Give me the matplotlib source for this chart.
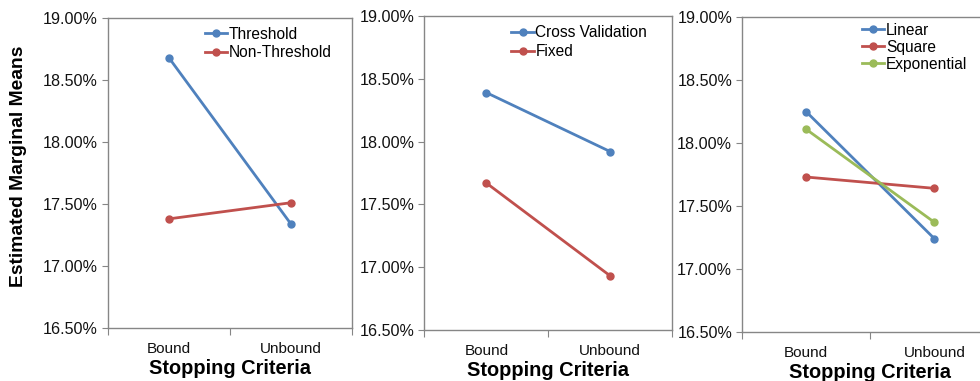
import matplotlib.pyplot as plt
from matplotlib.ticker import FuncFormatter

plt.rcParams["font.family"] = "Liberation Sans"

categories = ["Bound", "Unbound"]

# estimated marginal means (%) per stopping criterion
threshold = [18.68, 17.34]
non_threshold = [17.38, 17.51]

cross_validation = [18.39, 17.92]
fixed = [17.67, 16.93]

linear = [18.25, 17.24]
square = [17.73, 17.64]
exponential = [18.11, 17.37]

y_ticks = [16.5, 17.0, 17.5, 18.0, 18.5, 19.0]

blue = "#4F81BD"
red = "#C0504D"
green = "#9BBB59"
axis_grey = "#868686"

fig = plt.figure(figsize=(9.8, 3.81), dpi=100)

panels = [
    ([0.110, 0.139, 0.249, 0.814], [(threshold, "Threshold", blue), (non_threshold, "Non-Threshold", red)], (0.398, 0.972), 0.25),
    ([0.433, 0.134, 0.253, 0.824], [(cross_validation, "Cross Validation", blue), (fixed, "Fixed", red)], (0.351, 0.970), 0.25),
    ([0.757, 0.129, 0.262, 0.826], [(linear, "Linear", blue), (square, "Square", red), (exponential, "Exponential", green)], (0.467, 0.982), 0.13),
]

for i, (rect, series, anchor, spacing) in enumerate(panels):
    ax = fig.add_axes(rect)
    x = [0.5, 1.5]
    for values, label, color in series:
        ax.plot(x, values, color=color, linewidth=2, marker="o", markersize=5, label=label)
    ax.set_xlim(0, 2)
    ax.set_ylim(16.5, 19.0)
    ax.set_yticks(y_ticks)
    ax.yaxis.set_major_formatter(FuncFormatter(lambda v, p: "%.2f%%" % v))
    # category ticks sit between the groups, labels under each group
    ax.set_xticks([0, 1, 2])
    ax.set_xticklabels([])
    ax.set_xticks(x, minor=True)
    ax.set_xticklabels(categories, minor=True, fontsize=11, color="#111111")
    ax.tick_params(axis="x", which="minor", length=0, pad=10)
    ax.tick_params(axis="x", which="major", length=5, color=axis_grey)
    ax.tick_params(axis="y", length=4, color=axis_grey, labelsize=11.6, labelcolor="#111111", pad=3)
    for s in ax.spines.values():
        s.set_color(axis_grey)
        s.set_linewidth(1)
    ax.set_xlabel("Stopping Criteria", fontsize=14.4, fontweight="bold", labelpad=2)
    if i == 0:
        ax.set_ylabel("Estimated Marginal Means", fontsize=13.9, fontweight="bold")
        ax.yaxis.set_label_coords(-0.33, 0.52)
    ax.legend(loc="upper left", bbox_to_anchor=anchor, frameon=False, fontsize=11.2,
              handlelength=1.45, handletextpad=0.1, labelspacing=spacing,
              borderaxespad=0, borderpad=0)

plt.savefig("out.png", dpi=100)
